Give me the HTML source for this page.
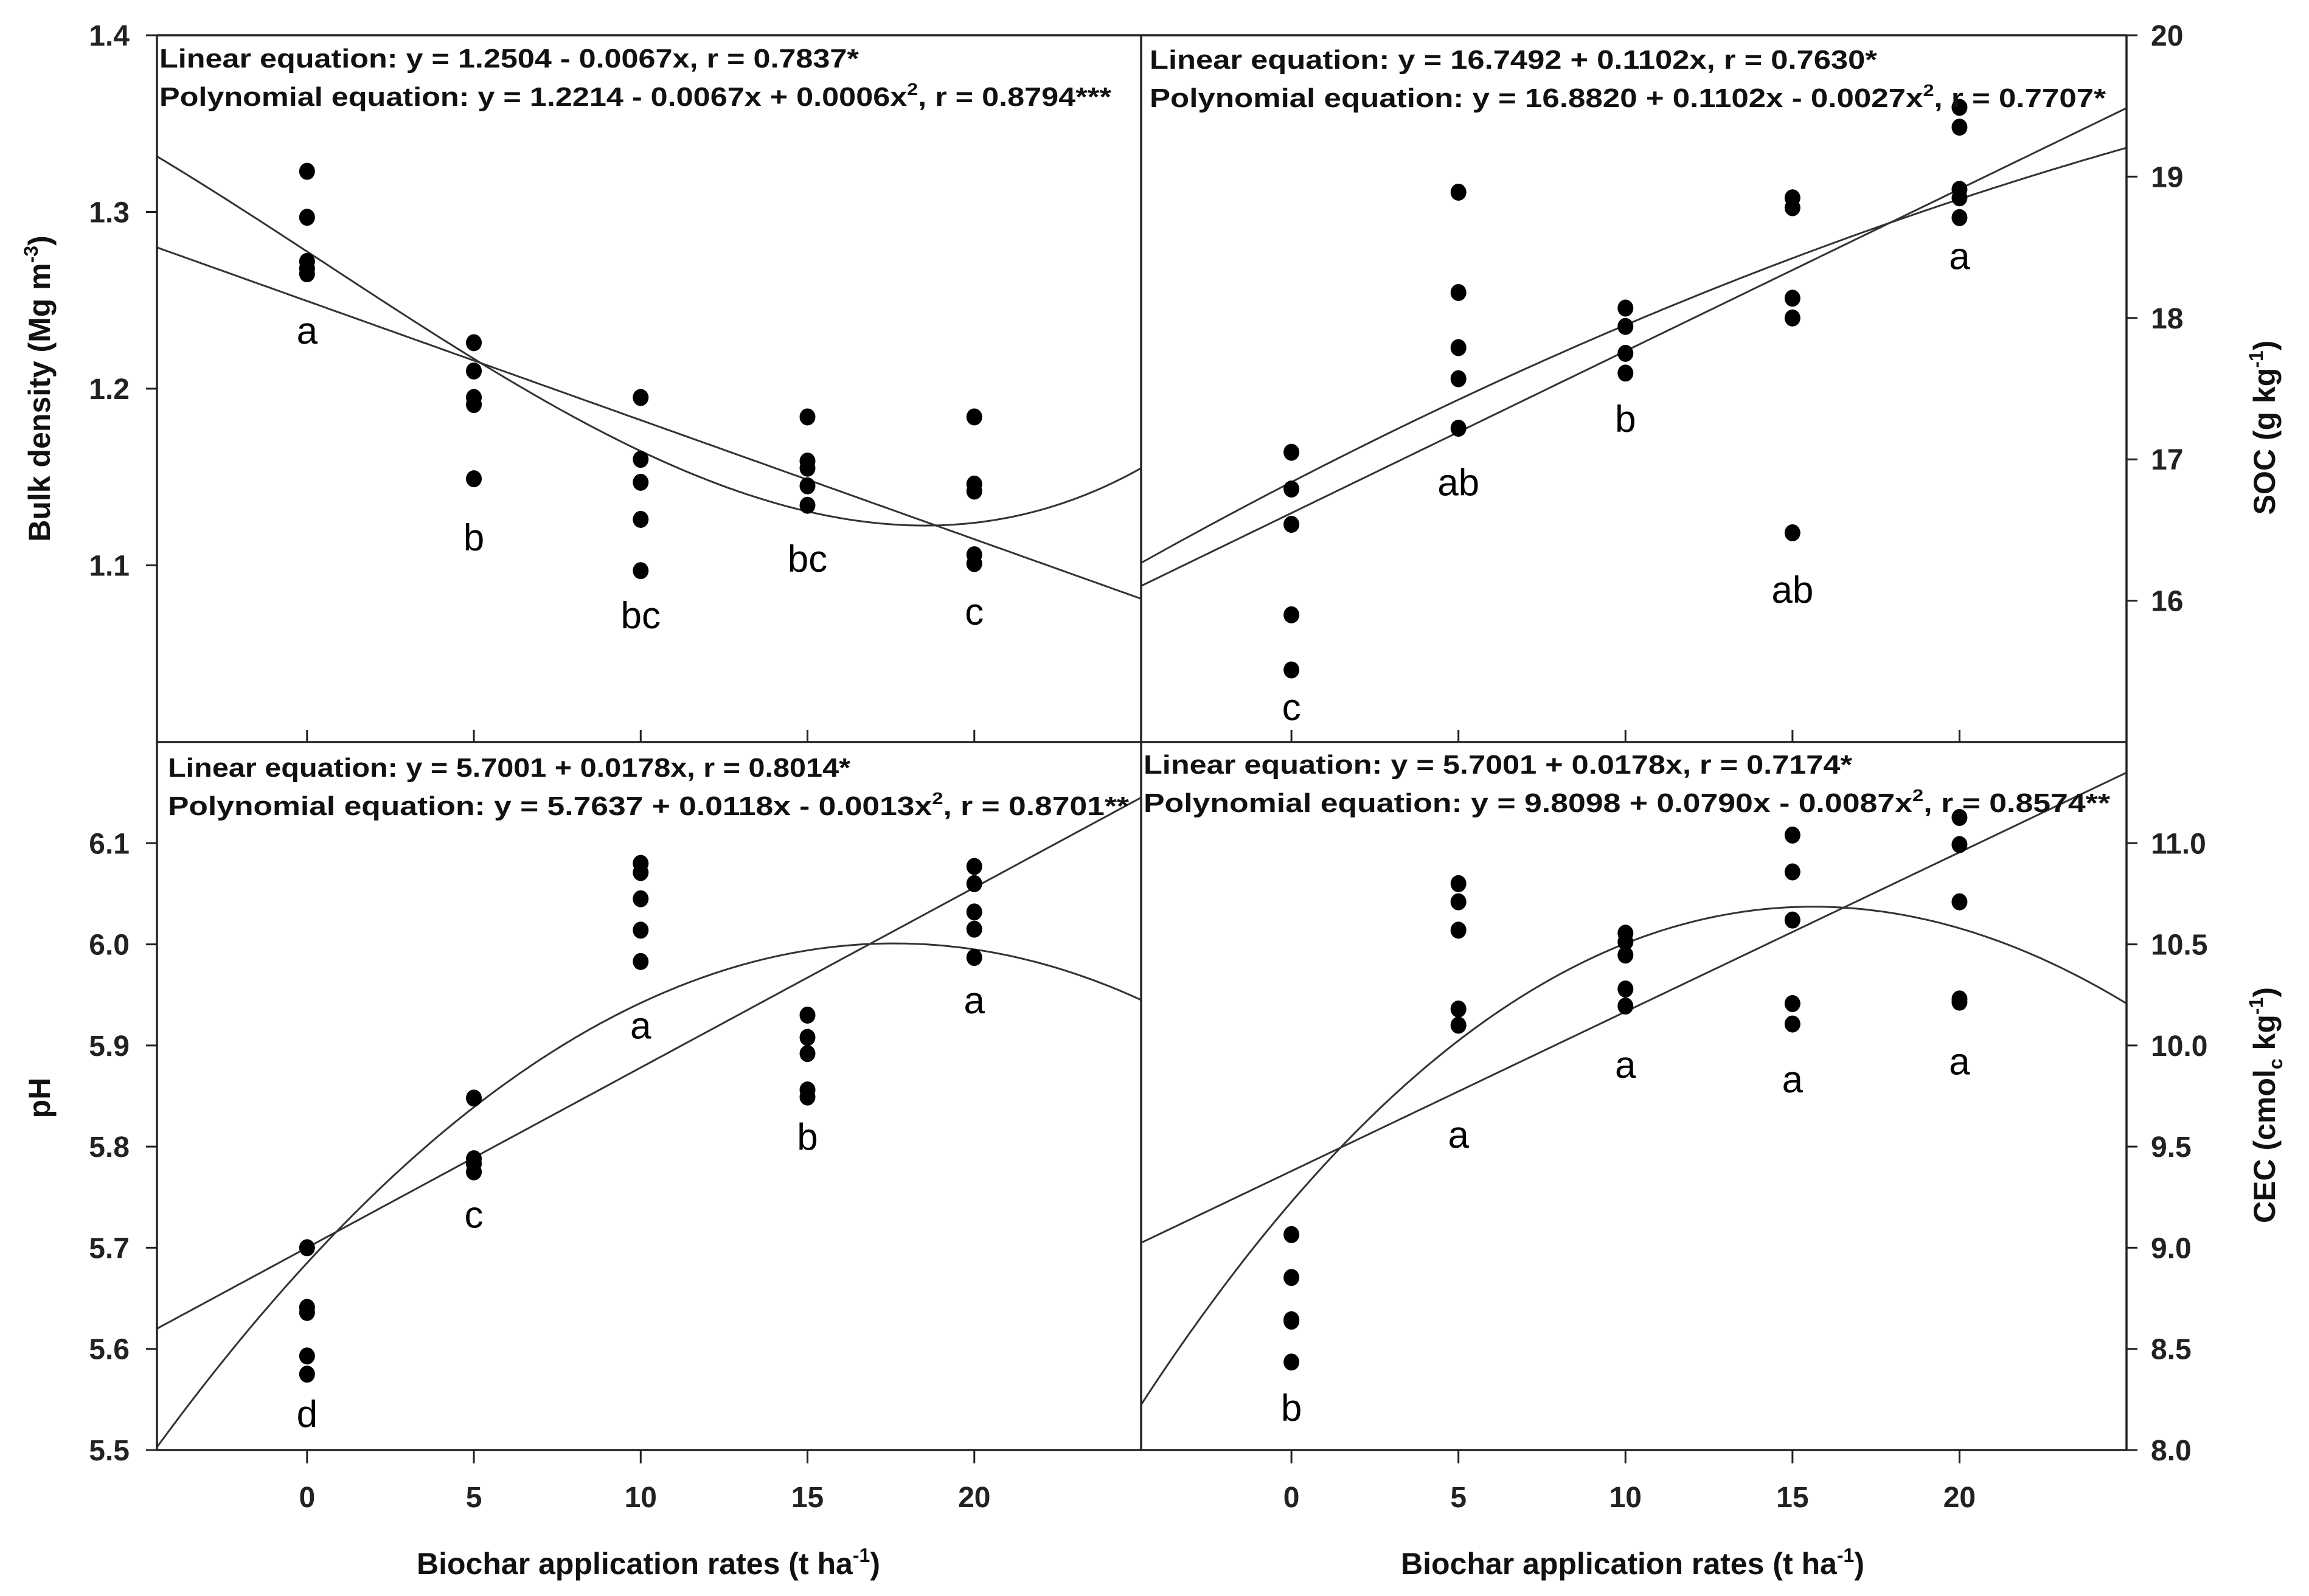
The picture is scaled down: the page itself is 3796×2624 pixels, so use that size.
<!DOCTYPE html>
<html><head><meta charset="utf-8"><title>Biochar soil properties</title>
<style>
html,body{margin:0;padding:0;background:#fff;}
svg{display:block;font-family:"Liberation Sans",Arial,sans-serif;}
</style></head>
<body>
<svg id="chart" xmlns="http://www.w3.org/2000/svg" width="3796" height="2624" viewBox="0 0 3796 2624">
<rect x="0" y="0" width="3796" height="2624" fill="#fff"/>
</svg>
<script>
// ---- data ----
const rates = [0, 5, 10, 15, 20];
const xTicks = [0, 5, 10, 15, 20];

const bdValues = [
  [1.323, 1.297, 1.272, 1.268, 1.265],
  [1.226, 1.210, 1.195, 1.191, 1.149],
  [1.195, 1.160, 1.147, 1.126, 1.097],
  [1.184, 1.159, 1.155, 1.145, 1.134],
  [1.184, 1.146, 1.142, 1.106, 1.101]
];
const bdLinear = [1.2496, -0.00674, 0, 0];
const bdPoly = [1.2776, -0.01234, -0.0000238, 0.00001285];
const bdLetters = ['a', 'b', 'bc', 'bc', 'c'];
const bdLetterY = [1.233, 1.116, 1.072, 1.104, 1.074];
const bdTicks = [1.1, 1.2, 1.3, 1.4];

const socValues = [
  [17.05, 16.79, 16.54, 15.90, 15.51],
  [18.89, 18.18, 17.79, 17.57, 17.22],
  [18.07, 17.94, 17.75, 17.61],
  [18.85, 18.78, 18.14, 18.00, 16.48],
  [19.49, 19.35, 18.91, 18.85, 18.71]
];
const socLinear = [16.62, 0.1146, 0, 0];
const socPoly = [16.839, 0.1221, -0.0011, 0];
const socLetters = ['c', 'ab', 'b', 'ab', 'a'];
const socLetterY = [15.25, 16.84, 17.29, 16.08, 18.44];
const socTicks = [16, 17, 18, 19, 20];

const phValues = [
  [5.700, 5.641, 5.636, 5.593, 5.575],
  [5.848, 5.788, 5.783, 5.775],
  [6.080, 6.071, 6.045, 6.014, 5.983],
  [5.930, 5.908, 5.892, 5.856, 5.849],
  [6.077, 6.060, 6.032, 6.015, 5.987]
];
const phLinear = [5.7001, 0.0178, 0, 0];
const phPoly = [5.685, 0.0359, -0.00102, 0];
const phLetters = ['d', 'c', 'a', 'b', 'a'];
const phLetterY = [5.536, 5.733, 5.92, 5.81, 5.945];
const phTicks = [5.5, 5.6, 5.7, 5.8, 5.9, 6.0, 6.1];

const cecValues = [
  [9.065, 8.853, 8.644, 8.637, 8.435],
  [10.80, 10.71, 10.57, 10.18, 10.10],
  [10.555, 10.512, 10.447, 10.279, 10.195],
  [11.04, 10.858, 10.62, 10.207, 10.106],
  [11.127, 10.993, 10.71, 10.23, 10.214]
];
const cecLinear = [9.379, 0.0788, 0, 0];
const cecPoly = [9.2266, 0.1923, -0.006675, 0.0000221];
const cecLetters = ['b', 'a', 'a', 'a', 'a'];
const cecLetterY = [8.21, 9.56, 9.906, 9.834, 9.923];
const cecTicks = [8.0, 8.5, 9.0, 9.5, 10.0, 10.5, 11.0];

// ---- drawing ----
const NS = 'http://www.w3.org/2000/svg';
const svg = document.getElementById('chart');
const X_MIN = -4.5, X_MAX = 25;

function mk(tag, attrs, parent) {
  const e = document.createElementNS(NS, tag);
  for (const k in attrs) e.setAttribute(k, attrs[k]);
  (parent || svg).appendChild(e);
  return e;
}

const panels = [
  {key:'bulk-density', x0:258, x1:1876, y0:58, y1:1220, yMin:1.0, yMax:1.4, values:bdValues, lin:bdLinear, poly:bdPoly, letters:bdLetters, letterY:bdLetterY, ticks:bdTicks, dec:1, side:'left', bottom:false,
   eq1:'Linear equation: y = 1.2504 - 0.0067x, r = 0.7837*', eq1w:1150,
   eq2a:'Polynomial equation: y = 1.2214 - 0.0067x + 0.0006x', eq2b:', r = 0.8794***', eq2w:1565, eqX:262, eqY1:111, eqY2:174},
  {key:'soc', x0:1876, x1:3496, y0:58, y1:1220, yMin:15, yMax:20, values:socValues, lin:socLinear, poly:socPoly, letters:socLetters, letterY:socLetterY, ticks:socTicks, dec:0, side:'right', bottom:false,
   eq1:'Linear equation: y = 16.7492 + 0.1102x, r = 0.7630*', eq1w:1196,
   eq2a:'Polynomial equation: y = 16.8820 + 0.1102x - 0.0027x', eq2b:', r = 0.7707*', eq2w:1572, eqX:1890, eqY1:113, eqY2:176},
  {key:'ph', x0:258, x1:1876, y0:1220, y1:2384, yMin:5.5, yMax:6.2, values:phValues, lin:phLinear, poly:phPoly, letters:phLetters, letterY:phLetterY, ticks:phTicks, dec:1, side:'left', bottom:true,
   eq1:'Linear equation: y = 5.7001 + 0.0178x, r = 0.8014*', eq1w:1122,
   eq2a:'Polynomial equation: y = 5.7637 + 0.0118x - 0.0013x', eq2b:', r = 0.8701**', eq2w:1580, eqX:276, eqY1:1277, eqY2:1340},
  {key:'cec', x0:1876, x1:3496, y0:1220, y1:2384, yMin:8.0, yMax:11.5, values:cecValues, lin:cecLinear, poly:cecPoly, letters:cecLetters, letterY:cecLetterY, ticks:cecTicks, dec:1, side:'right', bottom:true,
   eq1:'Linear equation: y = 5.7001 + 0.0178x, r = 0.7174*', eq1w:1165,
   eq2a:'Polynomial equation: y = 9.8098 + 0.0790x - 0.0087x', eq2b:', r = 0.8574**', eq2w:1589, eqX:1880, eqY1:1272, eqY2:1335}
];

panels.forEach(function(p, pi) {
  const sx = function(v){ return p.x0 + (v - X_MIN) / (X_MAX - X_MIN) * (p.x1 - p.x0); };
  const sy = function(v){ return p.y1 - (v - p.yMin) / (p.yMax - p.yMin) * (p.y1 - p.y0); };
  const g = mk('g', {});
  
  

  const cp = mk('clipPath', {id:'clip' + pi}, g);
  mk('rect', {x:p.x0, y:p.y0, width:p.x1 - p.x0, height:p.y1 - p.y0}, cp);

  [['linear', p.lin], ['polynomial', p.poly]].forEach(function(f) {
    const c = f[1];
    let d = '';
    for (let i = 0; i <= 200; i++) {
      const xv = X_MIN + (X_MAX - X_MIN) * i / 200;
      const yv = c[0] + c[1] * xv + c[2] * xv * xv + c[3] * xv * xv * xv;
      d += (i ? 'L' : 'M') + sx(xv).toFixed(1) + ',' + sy(yv).toFixed(1);
    }
    const path = mk('path', {d:d, fill:'none', stroke:'#333', 'stroke-width':3, 'clip-path':'url(#clip' + pi + ')'}, g);
    
    
  });

  p.values.forEach(function(arr, gi) {
    arr.forEach(function(v) {
      const c = mk('ellipse', {cx:sx(rates[gi]), cy:sy(v), rx:13, ry:14, fill:'#000'}, g);
      
      
    });
  });

  p.letters.forEach(function(L, gi) {
    const t = mk('text', {x:sx(rates[gi]), y:sy(p.letterY[gi]) + 22, 'text-anchor':'middle', 'font-size':62, fill:'#000'}, g);
    t.textContent = L;
    
    
  });

  p.ticks.forEach(function(v) {
    const y = sy(v);
    const left = p.side === 'left';
    const tk = mk('line', {x1:left ? p.x0 - 18 : p.x1, x2:left ? p.x0 : p.x1 + 18, y1:y, y2:y, stroke:'#222', 'stroke-width':3}, g);
    
    
    const t = mk('text', {x:left ? p.x0 - 45 : p.x1 + 40, y:y + 17, 'text-anchor':left ? 'end' : 'start', 'font-size':48, 'font-weight':'bold', fill:'#222'}, g);
    t.textContent = v.toFixed(p.dec);
    
    
  });

  xTicks.forEach(function(v) {
    const x = sx(v);
    if (p.bottom) {
      const tk = mk('line', {x1:x, x2:x, y1:p.y1, y2:p.y1 + 22, stroke:'#222', 'stroke-width':3}, g);
      
      
      const t = mk('text', {x:x, y:2478, 'text-anchor':'middle', 'font-size':48, 'font-weight':'bold', fill:'#222'}, g);
      t.textContent = String(v);
      
      
    } else {
      const tk = mk('line', {x1:x, x2:x, y1:p.y1 - 20, y2:p.y1, stroke:'#222', 'stroke-width':3}, g);
      
      
    }
  });

  const e1 = mk('text', {x:p.eqX, y:p.eqY1, 'font-size':44, 'font-weight':'bold', fill:'#111', textLength:p.eq1w, lengthAdjust:'spacingAndGlyphs'}, g);
  e1.textContent = p.eq1;
  
  
  const e2 = mk('text', {x:p.eqX, y:p.eqY2, 'font-size':44, 'font-weight':'bold', fill:'#111', textLength:p.eq2w, lengthAdjust:'spacingAndGlyphs'}, g);
  const s1 = mk('tspan', {}, e2); s1.textContent = p.eq2a;
  const s2 = mk('tspan', {dy:-18, 'font-size':28}, e2); s2.textContent = '2';
  const s3 = mk('tspan', {dy:18}, e2); s3.textContent = p.eq2b;
  
  
});

const frame = [
  [258, 58, 3496, 58], [258, 2384, 3496, 2384], [258, 58, 258, 2384], [3496, 58, 3496, 2384],
  [1876, 58, 1876, 2384], [258, 1220, 3496, 1220]
];
frame.forEach(function(f) {
  const l = mk('line', {x1:f[0], y1:f[1], x2:f[2], y2:f[3], stroke:'#222', 'stroke-width':3.5});
  
  
});

function title(txt, sup, x, y, rot, name) {
  const t = mk('text', {x:x, y:y, 'text-anchor':'middle', 'font-size':50, 'font-weight':'bold', fill:'#111', transform:rot ? 'rotate(-90 ' + x + ' ' + y + ')' : ''});
  const a = mk('tspan', {}, t); a.textContent = txt[0];
  if (sup) {
    const b = mk('tspan', {dy:-20, 'font-size':32}, t); b.textContent = sup;
    const c = mk('tspan', {dy:20}, t); c.textContent = txt[1];
  }
  
  
  return t;
}
title(['Bulk density (Mg m', ')'], '-3', 82, 639, true, 'bulk-density-axis-title');
title(['pH'], null, 82, 1805, true, 'ph-axis-title');
title(['SOC (g kg', ')'], '-1', 3740, 703, true, 'soc-axis-title');
const cec = mk('text', {x:3740, y:1817, 'text-anchor':'middle', 'font-size':50, 'font-weight':'bold', fill:'#111', transform:'rotate(-90 3740 1817)'});


(function(){
  const a = mk('tspan', {}, cec); a.textContent = 'CEC (cmol';
  const b = mk('tspan', {dy:12, 'font-size':32}, cec); b.textContent = 'c';
  const c = mk('tspan', {dy:-12}, cec); c.textContent = ' kg';
  const d = mk('tspan', {dy:-20, 'font-size':32}, cec); d.textContent = '-1';
  const e = mk('tspan', {dy:20}, cec); e.textContent = ')';
})();
title(['Biochar application rates (t ha', ')'], '-1', 1066, 2588, false, 'left-x-axis-title');
title(['Biochar application rates (t ha', ')'], '-1', 2684, 2588, false, 'right-x-axis-title');
</script>
</body></html>
